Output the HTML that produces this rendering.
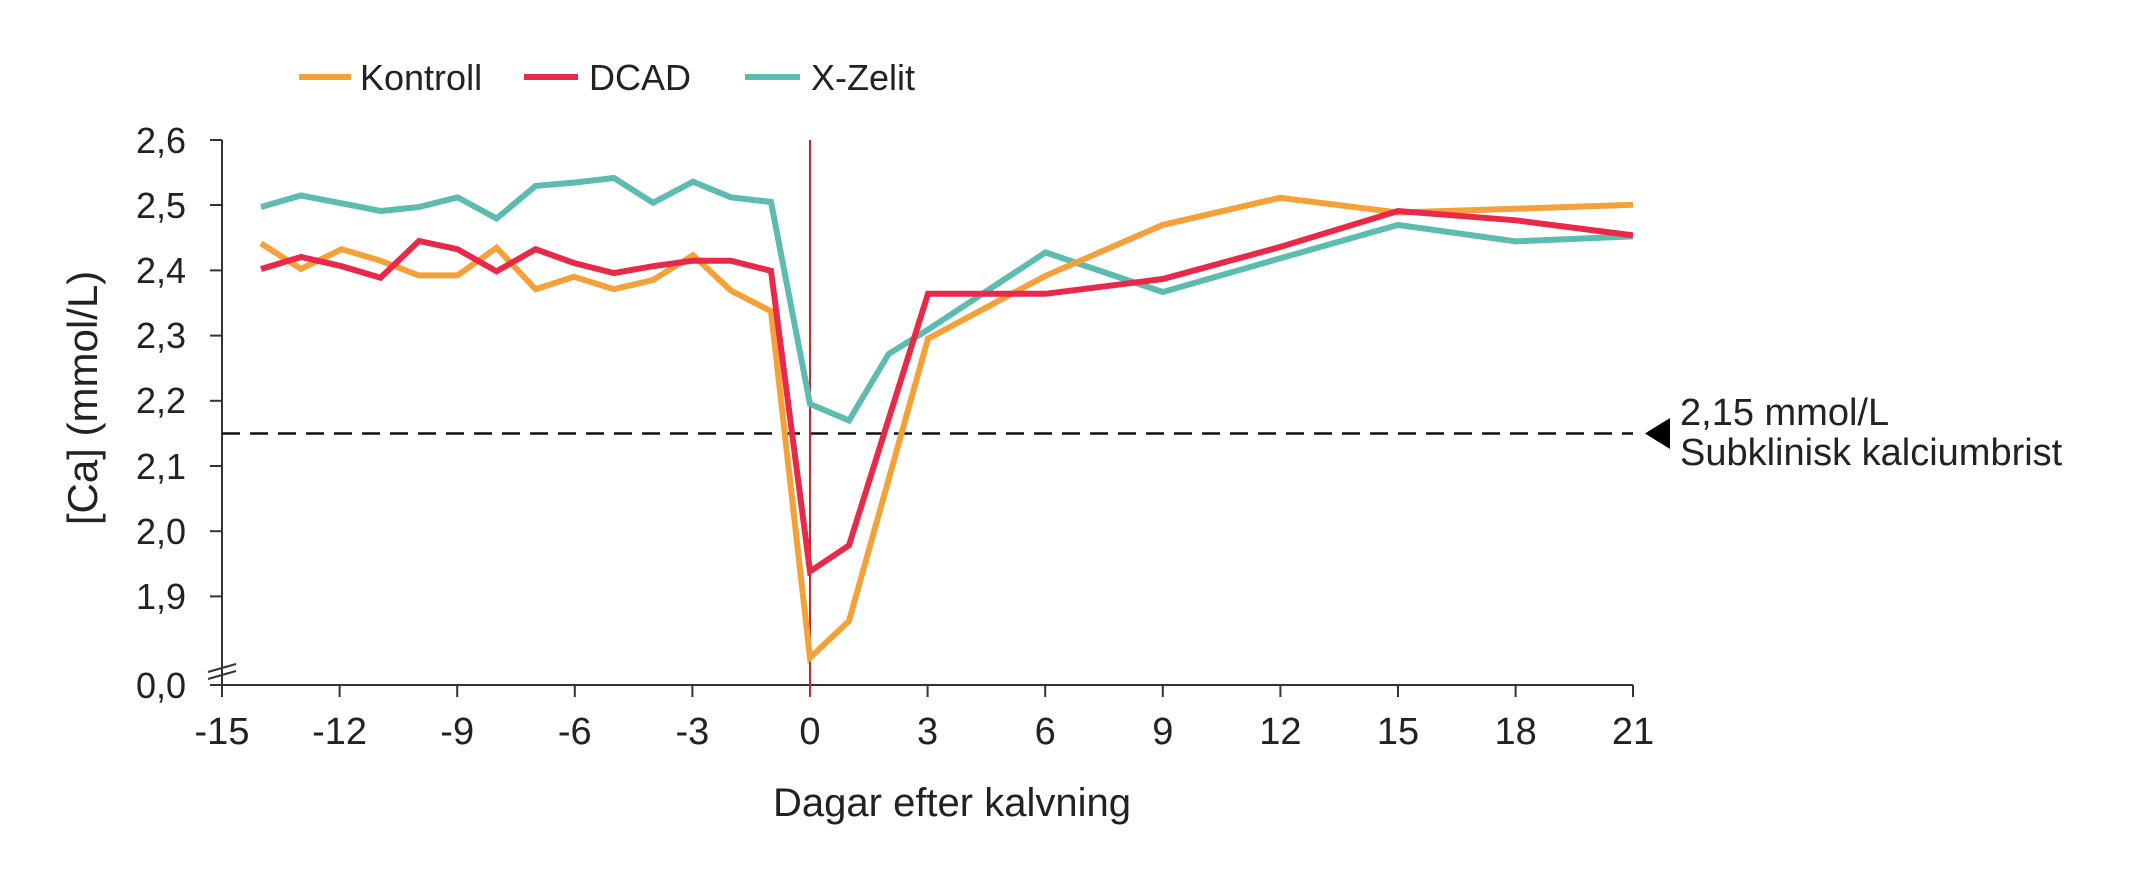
<!DOCTYPE html>
<html><head><meta charset="utf-8"><style>
html,body{margin:0;padding:0;background:#fff;}
svg{display:block;}
text{font-family:"Liberation Sans",sans-serif;fill:#222;}
</style></head><body>
<svg width="2133" height="880" viewBox="0 0 2133 880" xmlns="http://www.w3.org/2000/svg">
<!-- legend -->
<line x1="299" y1="77" x2="351" y2="77" stroke="#F5A13A" stroke-width="6"/>
<text x="360" y="90" font-size="36">Kontroll</text>
<line x1="524" y1="77" x2="578" y2="77" stroke="#E8294A" stroke-width="6"/>
<text x="589" y="90" font-size="36">DCAD</text>
<line x1="745" y1="77" x2="800" y2="77" stroke="#5DBCB0" stroke-width="6"/>
<text x="811" y="90" font-size="36">X-Zelit</text>

<!-- axes -->
<g stroke="#333" stroke-width="2" fill="none">
<line x1="222" y1="140" x2="222" y2="685"/>
<line x1="222" y1="685" x2="1633" y2="685"/>
<line x1="210" y1="140" x2="222" y2="140"/>
<line x1="210" y1="205" x2="222" y2="205"/>
<line x1="210" y1="270.4" x2="222" y2="270.4"/>
<line x1="210" y1="335.6" x2="222" y2="335.6"/>
<line x1="210" y1="400.8" x2="222" y2="400.8"/>
<line x1="210" y1="466" x2="222" y2="466"/>
<line x1="210" y1="531.2" x2="222" y2="531.2"/>
<line x1="210" y1="596.4" x2="222" y2="596.4"/>
<line x1="210" y1="685" x2="222" y2="685"/>
<line x1="208" y1="672" x2="236" y2="664"/>
<line x1="208" y1="679" x2="236" y2="671"/>
<line x1="222" y1="685" x2="222" y2="697"/>
<line x1="339.6" y1="685" x2="339.6" y2="697"/>
<line x1="457.2" y1="685" x2="457.2" y2="697"/>
<line x1="574.8" y1="685" x2="574.8" y2="697"/>
<line x1="692.4" y1="685" x2="692.4" y2="697"/>
<line x1="810" y1="685" x2="810" y2="697"/>
<line x1="927.6" y1="685" x2="927.6" y2="697"/>
<line x1="1045.2" y1="685" x2="1045.2" y2="697"/>
<line x1="1162.8" y1="685" x2="1162.8" y2="697"/>
<line x1="1280.4" y1="685" x2="1280.4" y2="697"/>
<line x1="1398" y1="685" x2="1398" y2="697"/>
<line x1="1515.6" y1="685" x2="1515.6" y2="697"/>
<line x1="1633" y1="685" x2="1633" y2="697"/>
</g>
<g font-size="36" text-anchor="end">
<text x="186" y="153">2,6</text>
<text x="186" y="218">2,5</text>
<text x="186" y="283">2,4</text>
<text x="186" y="348">2,3</text>
<text x="186" y="413">2,2</text>
<text x="186" y="479">2,1</text>
<text x="186" y="544">2,0</text>
<text x="186" y="609">1,9</text>
<text x="186" y="698">0,0</text>
</g>
<g font-size="38" text-anchor="middle">
<text x="222" y="744">-15</text>
<text x="339.6" y="744">-12</text>
<text x="457.2" y="744">-9</text>
<text x="574.8" y="744">-6</text>
<text x="692.4" y="744">-3</text>
<text x="810" y="744">0</text>
<text x="927.6" y="744">3</text>
<text x="1045.2" y="744">6</text>
<text x="1162.8" y="744">9</text>
<text x="1280.4" y="744">12</text>
<text x="1398" y="744">15</text>
<text x="1515.6" y="744">18</text>
<text x="1633" y="744">21</text>
</g>
<text x="952" y="816" font-size="40" text-anchor="middle">Dagar efter kalvning</text>
<text transform="translate(97,398) rotate(-90)" font-size="42" text-anchor="middle">[Ca] (mmol/L)</text>

<!-- dashed threshold -->
<line x1="222" y1="433.5" x2="1633" y2="433.5" stroke="#111" stroke-width="2.5" stroke-dasharray="18,10"/>
<polygon points="1645,433.5 1670,418 1670,449" fill="#000"/>
<text x="1680" y="425" font-size="38">2,15 mmol/L</text>
<text x="1680" y="465" font-size="38">Subklinisk kalciumbrist</text>

<!-- vertical line at day 0 -->
<line x1="810" y1="140" x2="810" y2="697" stroke="#C0282D" stroke-width="2"/>

<g fill="none" stroke-width="6" stroke-linejoin="miter">
<polyline stroke="#5DBCB0" points="261,207 301,195.5 341.6,203.3 380.6,211 419,207 457.5,197.3 496.6,218.5 535.6,185.9 574,182.6 614,178 653,202.8 693,181.7 730.8,197.3 771,202 810,404 849,420.5 888.6,354 928,329.6 1045.5,252.4 1162.8,292 1280,258.4 1398,224.9 1515.6,241.4 1633,236.4"/>
<polyline stroke="#F5A13A" points="261,243.3 301,269 341.6,249.2 380.6,260.7 419,275.4 457.5,275.4 496.6,247.8 535.6,289.2 574,276.8 614,289.2 653,280 693,255.2 730.8,290.5 771,311.2 810,657.8 849,621 928,338.7 1045.5,275.8 1162.8,224.9 1280,197.8 1398,212.5 1515.6,208.8 1633,204.7"/>
<polyline stroke="#E8294A" points="261,269 301,257 341.6,266.2 380.6,277.7 419,241 457.5,249.2 496.6,271.3 535.6,249.2 574,263 614,273.1 653,266.2 693,260.7 730.8,260.7 771,270.8 810,571.5 849,545.4 928,293.8 1045.5,293.8 1162.8,279 1280,247 1398,211 1515.6,220.3 1633,235.4"/>
</g>
</svg>
</body></html>
